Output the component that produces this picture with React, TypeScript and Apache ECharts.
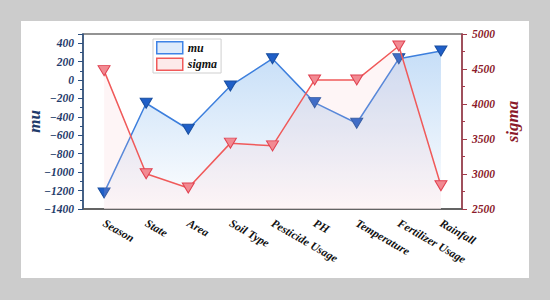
import React, { useEffect, useRef } from "react";
import * as echarts from "echarts";

const categories = ["Season", "State", "Area", "Soil Type", "Pesticide Usage", "PH", "Temperature", "Fertilizer Usage", "Rainfall"];
const muValues = [-1225, -252, -534, -64, 232, -245, -469, 232, 316];
const sigmaValues = [4477, 3003, 2799, 3441, 3402, 4344, 4344, 4829, 2832];
const seriesNames = ["mu", "sigma"];

const SERIF = "'Liberation Serif', 'DejaVu Serif', serif";
const NAVY = "#1f3b6b";
const DARKRED = "#8b1a2a";

export default function App() {
  const ref = useRef<HTMLDivElement>(null);
  useEffect(() => {
    if (!ref.current) return;
    const chart = echarts.init(ref.current, undefined, { renderer: "svg" });
    const minus = (v: number) => (v < 0 ? "\u2212" + Math.abs(v) : String(v));
    const baseText = { fontFamily: SERIF, fontWeight: "bold" as const, fontStyle: "italic" as const };
    chart.setOption({
      animation: false,
      backgroundColor: "#cccccc",
      graphic: [
        { type: "rect", z: -10, shape: { x: 21, y: 21, width: 508, height: 257 }, style: { fill: "#ffffff" } },
      ],
      grid: { left: 83, right: 88, top: 34, bottom: 91, show: true, borderColor: "#707070", borderWidth: 1.5, backgroundColor: "transparent" },
      legend: {
        data: [
          { name: seriesNames[0], icon: "rect", itemStyle: { color: "#deebfb", borderColor: "#3f83e6", borderWidth: 1.5 } },
          { name: seriesNames[1], icon: "rect", itemStyle: { color: "#fdeaea", borderColor: "#f05a5a", borderWidth: 1.5 } },
        ],
        orient: "vertical",
        left: 153,
        top: 39,
        itemWidth: 26,
        itemHeight: 12,
        itemGap: 3,
        padding: [2, 4, 2, 3],
        borderColor: "#cfcfcf",
        borderWidth: 1,
        backgroundColor: "#ffffff",
        textStyle: { ...baseText, fontSize: 12, color: "#111" },
      },
      xAxis: [
        {
          type: "category",
          data: categories,
          boundaryGap: true,
          position: "bottom",
          axisLine: { onZero: false, lineStyle: { color: "#555", width: 1.5 } },
          axisTick: { alignWithLabel: true, length: 5, lineStyle: { color: "#444" } },
          axisLabel: { ...baseText, rotate: -30, fontSize: 11.5, color: "#111", margin: 13, interval: 0 },
          splitLine: { show: false },
        },
        {
          type: "category",
          data: categories,
          boundaryGap: true,
          position: "bottom",
          axisLine: { show: false, onZero: false },
          axisTick: { alignWithLabel: false, length: 3, lineStyle: { color: "#444" } },
          axisLabel: { show: false },
          splitLine: { show: false },
        },
      ],
      yAxis: [
        {
          type: "value",
          min: -1400,
          max: 500,
          interval: 200,
          position: "left",
          name: "mu",
          nameLocation: "middle",
          nameGap: 40,
          nameMoveOverlap: false,
          nameTextStyle: { ...baseText, fontSize: 17, color: NAVY },
          axisLine: { show: true, lineStyle: { color: "#2d5080", width: 1.5 } },
          axisTick: { show: true, length: 5, lineStyle: { color: "#2d5080" } },
          minorTick: { show: true, splitNumber: 2, length: 3, lineStyle: { color: "#2d5080" } },
          axisLabel: { ...baseText, fontSize: 11.5, color: NAVY, margin: 9, showMaxLabel: false, formatter: minus },
          splitLine: { show: false },
        },
        {
          type: "value",
          min: 2500,
          max: 5000,
          interval: 500,
          position: "right",
          name: "sigma",
          nameLocation: "middle",
          nameGap: 42,
          nameMoveOverlap: false,
          nameTextStyle: { ...baseText, fontSize: 17, color: DARKRED },
          axisLine: { show: true, lineStyle: { color: "#a33a4a", width: 1.5 } },
          axisTick: { show: true, length: 5, lineStyle: { color: "#a33a4a" } },
          minorTick: { show: true, splitNumber: 2, length: 3, lineStyle: { color: "#a33a4a" } },
          axisLabel: { ...baseText, fontSize: 11.5, color: DARKRED, margin: 10, formatter: (v: number) => String(v) },
          splitLine: { show: false },
        },
      ],
      series: [
        {
          name: seriesNames[0],
          type: "line",
          xAxisIndex: 0,
          yAxisIndex: 0,
          data: muValues,
          symbol: "triangle",
          symbolRotate: 180,
          symbolSize: [12, 10],
          itemStyle: { color: "#1f5fc8", borderColor: "#1a4fa0", borderWidth: 1 },
          lineStyle: { color: "#3d7fdd", width: 1.5 },
          areaStyle: {
            origin: "start",
            color: new echarts.graphic.LinearGradient(0, 0, 0, 1, [
              { offset: 0, color: "rgba(160,200,242,0.85)" },
              { offset: 1, color: "rgba(255,255,255,0.9)" },
            ]),
          },
          z: 2,
        },
        {
          name: seriesNames[1],
          type: "line",
          xAxisIndex: 0,
          yAxisIndex: 1,
          data: sigmaValues,
          symbol: "triangle",
          symbolRotate: 180,
          symbolSize: [12, 10],
          itemStyle: { color: "#f28a92", borderColor: "#e04050", borderWidth: 1 },
          lineStyle: { color: "#f05a5a", width: 1.5 },
          areaStyle: { origin: "start", color: "rgba(248,190,195,0.22)" },
          z: 3,
        },
      ],
    });
    return () => chart.dispose();
  }, []);
  return (
    <div style={{ position: "fixed", left: 0, top: 0, width: 550, height: 300 }}>
      <div ref={ref} style={{ width: 550, height: 300 }} />
    </div>
  );
}
